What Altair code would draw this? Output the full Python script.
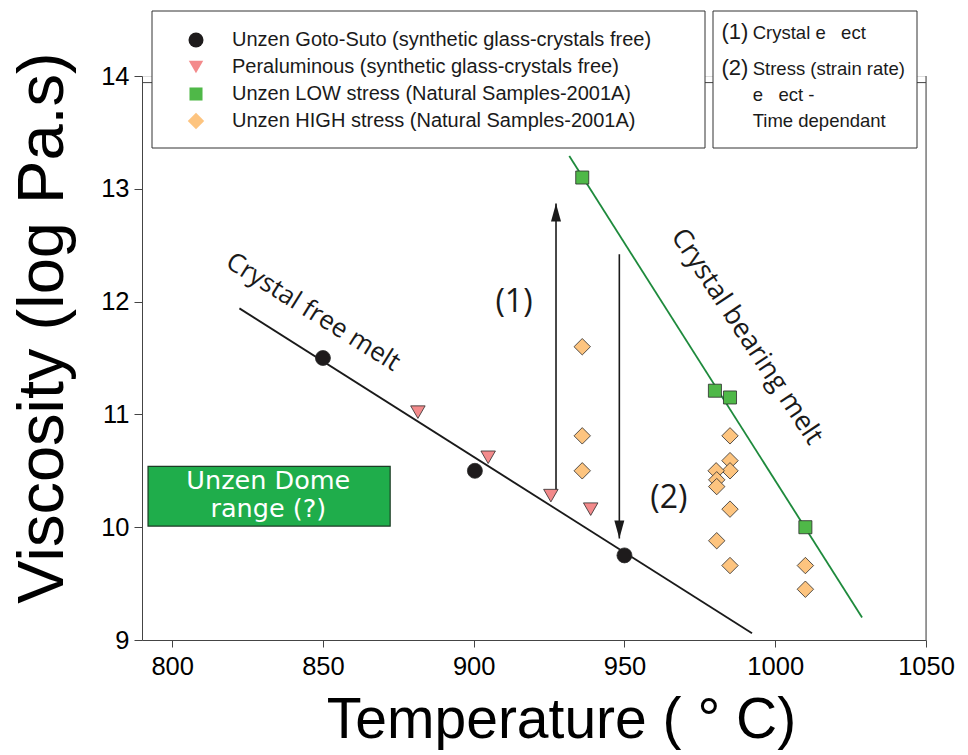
import altair as alt
import pandas as pd

# ---------------- data ----------------
series_names = [
    "Unzen Goto-Suto (synthetic glass-crystals free)",
    "Peraluminous (synthetic glass-crystals free)",
    "Unzen LOW stress (Natural Samples-2001A)",
    "Unzen HIGH stress (Natural Samples-2001A)",
]
series_colors = ["#1e1b1c", "#f38a8b", "#4fb848", "#fdc47f"]
series_shapes = ["circle", "triangle-down", "square", "diamond"]
series_sizes = [225, 210, 170, 270]

goto_T = [850.0, 900.4, 950.0]
goto_V = [11.50, 10.50, 9.75]

peral_T = [881.5, 904.8, 925.6, 938.8]
peral_V = [11.02, 10.62, 10.28, 10.16]

low_T = [936.0, 980.0, 985.0, 1010.0]
low_V = [13.10, 11.21, 11.15, 10.00]

high_T = [936.0, 936.0, 936.0, 985.0, 985.0, 985.0, 980.4, 980.6, 980.6,
          985.0, 980.6, 985.0, 1010.0, 1010.0]
high_V = [11.60, 10.81, 10.50, 10.81, 10.59, 10.50, 10.50, 10.42, 10.36,
          10.16, 9.88, 9.66, 9.66, 9.45]

free_T = [822.3, 992.3]
free_V = [11.94, 9.06]
bearing_T = [931.7, 1028.8]
bearing_V = [13.29, 9.20]

arrow_T = [927.3, 948.3]
arrow_from = [10.33, 12.42]
arrow_to = [12.87, 9.90]

dome_T = [792.0, 872.3]
dome_V = [10.01, 10.54]

x_ticks = [800, 850, 900, 950, 1000, 1050]
y_ticks = [9, 10, 11, 12, 13, 14]

# ---------------- tables ----------------
rows = []
for name, Ts, Vs in zip(series_names, [goto_T, peral_T, low_T, high_T],
                        [goto_V, peral_V, low_V, high_V]):
    for t, v in zip(Ts, Vs):
        rows.append({"T": t, "V": v, "series": name})
df_pts = pd.DataFrame(rows)
df_free = pd.DataFrame({"T": free_T, "V": free_V})
df_bear = pd.DataFrame({"T": bearing_T, "V": bearing_V})
df_up = pd.DataFrame({"T": [arrow_T[0]], "V": [arrow_from[0]], "V2": [arrow_to[0]]})
df_down = pd.DataFrame({"T": [arrow_T[1]], "V": [arrow_from[1]], "V2": [arrow_to[1]]})
df_up_head = pd.DataFrame({"T": [arrow_T[0]], "V": [arrow_to[0]]})
df_down_head = pd.DataFrame({"T": [arrow_T[1]], "V": [arrow_to[1]]})
df_dome = pd.DataFrame({"T": [dome_T[0]], "T2": [dome_T[1]], "V": [dome_V[0]], "V2": [dome_V[1]]})
one = pd.DataFrame({"a": [0]})

# ---------------- scales / axes ----------------
SANS = "Liberation Sans, Arial, sans-serif"
HUM = "Open Sans, Noto Sans, sans-serif"

x_scale = alt.Scale(domain=[790, 1050], nice=False, zero=False)
y_scale = alt.Scale(domain=[9, 14], nice=False, zero=False)

x_axis = alt.Axis(values=x_ticks, format="d", title="Temperature ( ° C)", titleFont=SANS,
                  titleFontSize=57, titleFontWeight="normal", titleColor="black",
                  titleX=419, titleY=97, titleBaseline="alphabetic", titleAlign="center",
                  labelFont=SANS, labelFontSize=25.5, labelColor="black",
                  labelPadding=7, tickSize=7, tickColor="#444", domainColor="#444",
                  grid=False, labelFlush=False, labelOverlap=False)
y_axis = alt.Axis(values=y_ticks, format="d", title="Viscosity (log Pa.s)", titleFont=SANS,
                  titleFontSize=65, titleFontWeight="normal", titleColor="black",
                  titleX=-80, titleY=251.5, titleAngle=270, titleBaseline="alphabetic",
                  titleAlign="center",
                  labelFont=SANS, labelFontSize=25.5, labelColor="black",
                  labelPadding=5, tickSize=8, tickColor="#444", domainColor="#444",
                  grid=False, labelFlush=False, labelOverlap=False)

X = alt.X("T:Q", scale=x_scale, axis=x_axis)
Y = alt.Y("V:Q", scale=y_scale, axis=y_axis)


def leg():
    return alt.Legend(title=None, orient="none", legendX=44, legendY=-46,
                      labelFont=SANS, labelFontSize=20, labelColor="#1a1a1a",
                      labelLimit=700, rowPadding=7, labelOffset=26, padding=0,
                      symbolStrokeColor="#2b2b2b", symbolStrokeWidth=0.8,
                      symbolOpacity=1)


# ---------------- layers ----------------
frame_top = alt.Chart(one).mark_rule(color="#444", strokeWidth=1).encode(
    x=alt.value(0), x2=alt.value(784), y=alt.value(6.6))
frame_right = alt.Chart(one).mark_rule(color="#444", strokeWidth=1).encode(
    x=alt.value(784), y=alt.value(0), y2=alt.value(564))

dome = alt.Chart(df_dome).mark_rect(fill="#1fad4b", stroke="#1b3b24", strokeWidth=1.2).encode(
    x=X, x2="T2", y=Y, y2="V2")
dome_text = alt.Chart(one).mark_text(
    text="Unzen Dome\nrange (?)", lineBreak="\n", lineHeight=28.5, font="DejaVu Sans",
    fontSize=25.5, color="white", align="center", baseline="alphabetic").encode(
    x=alt.value(126.3), y=alt.value(412.5))

line_free = alt.Chart(df_free).mark_line(color="#1a1a1a", strokeWidth=1.8).encode(x=X, y=Y)
line_bear = alt.Chart(df_bear).mark_line(color="#1e8a3c", strokeWidth=1.8).encode(x=X, y=Y)

arr_up = alt.Chart(df_up).mark_rule(color="#1a1a1a", strokeWidth=1.6).encode(x=X, y=Y, y2="V2")
arr_down = alt.Chart(df_down).mark_rule(color="#1a1a1a", strokeWidth=1.6).encode(x=X, y=Y, y2="V2")
head_up = alt.Chart(df_up_head).mark_point(
    shape="M0,0 L-0.5,1.8 L0.5,1.8 Z", size=400, filled=True, color="#1a1a1a", opacity=1
).encode(x=X, y=Y)
head_down = alt.Chart(df_down_head).mark_point(
    shape="M0,0 L-0.5,-1.8 L0.5,-1.8 Z", size=400, filled=True, color="#1a1a1a", opacity=1
).encode(x=X, y=Y)

lbl_1 = alt.Chart(one).mark_text(text="(1)", font=HUM, fontSize=32, color="#1a1a1a",
                                 align="center", baseline="middle").encode(
    x=alt.value(372), y=alt.value(225.5))
lbl_2 = alt.Chart(one).mark_text(text="(2)", font=HUM, fontSize=32, color="#1a1a1a",
                                 align="center", baseline="middle").encode(
    x=alt.value(526.8), y=alt.value(422.3))
lbl_free = alt.Chart(one).mark_text(text="Crystal free melt", font=HUM, fontSize=26,
                                    color="#1a1a1a", angle=32, align="center",
                                    baseline="middle").encode(
    x=alt.value(171), y=alt.value(236))
lbl_bear = alt.Chart(one).mark_text(text="Crystal bearing melt", font=HUM, fontSize=27,
                                    color="#1a1a1a", angle=56.5, align="center",
                                    baseline="middle").encode(
    x=alt.value(604.7), y=alt.value(260.7))

points = alt.Chart(df_pts).mark_point(filled=True, opacity=1, stroke="#2b2b2b",
                                      strokeWidth=0.8).encode(
    x=X, y=Y,
    color=alt.Color("series:N", scale=alt.Scale(domain=series_names, range=series_colors),
                    legend=leg()),
    shape=alt.Shape("series:N", scale=alt.Scale(domain=series_names, range=series_shapes),
                    legend=leg()),
    size=alt.Size("series:N", scale=alt.Scale(type="ordinal", domain=series_names,
                                              range=series_sizes),
                  legend=leg()),
)

legend_box = alt.Chart(one).mark_rect(fill="white", stroke="#333", strokeWidth=1).encode(
    x=alt.value(10), x2=alt.value(563), y=alt.value(-65), y2=alt.value(72))
note_box = alt.Chart(one).mark_rect(fill="white", stroke="#333", strokeWidth=1).encode(
    x=alt.value(571), x2=alt.value(775), y=alt.value(-65), y2=alt.value(72))


def note(txt, px, py, size):
    return alt.Chart(one).mark_text(text=txt, font=SANS, fontSize=size, color="#1a1a1a",
                                    align="left", baseline="alphabetic").encode(
        x=alt.value(px), y=alt.value(py))


NB = "\u00a0"
notes = [
    note("(1)", 579.5, -37.5, 22),
    note("Crystal e" + NB * 3 + "ect", 610.7, -37.5, 18.5),
    note("(2)", 579.5, -1, 22),
    note("Stress (strain rate)", 610.7, -1, 18.5),
    note("e" + NB * 3 + "ect -", 610.7, 24.7, 18.5),
    note("Time dependant", 610.7, 51.3, 18.5),
]

chart = alt.layer(
    frame_top, frame_right, dome, dome_text, line_free, line_bear,
    arr_up, arr_down, head_up, head_down, lbl_1, lbl_2, lbl_free, lbl_bear,
    legend_box, note_box, *notes, points,
).properties(
    width=784, height=564,
    padding={"left": 142, "top": 76, "right": 42, "bottom": 115},
    autosize=alt.AutoSizeParams(type="none"),
).configure_view(stroke=None).configure(background="white")

chart.save("out.html", embed_options={"renderer": "svg", "actions": False})
